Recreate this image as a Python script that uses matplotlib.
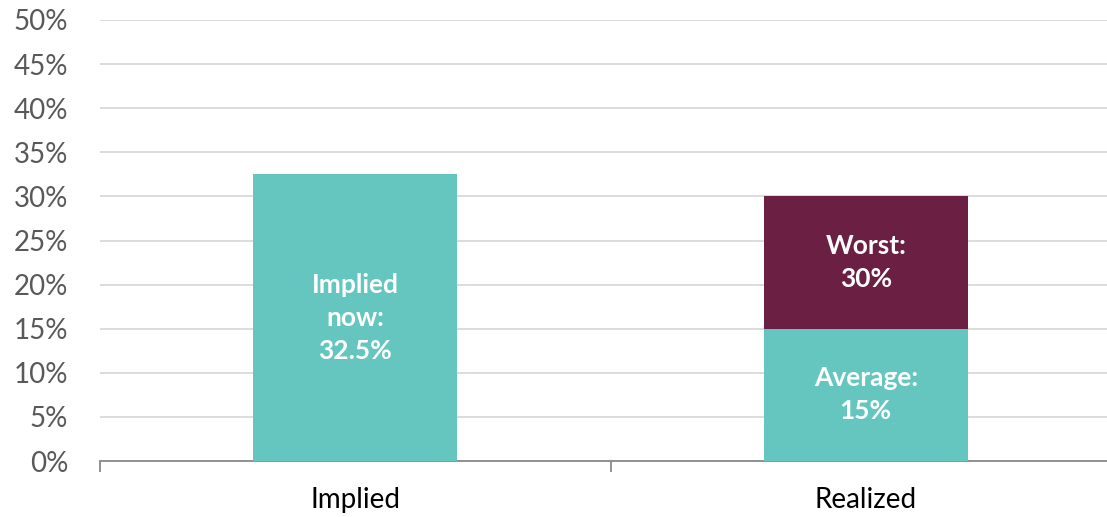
import matplotlib.pyplot as plt
from matplotlib.ticker import FuncFormatter, FixedLocator

plt.rcParams['font.family'] = ['Lato', 'DejaVu Sans']

categories = ['Implied', 'Realized']
base_values = [32.5, 15]
top_values = [0, 15]
base_labels = ['Implied\nnow:\n32.5%', 'Average:\n15%']
top_labels = ['', 'Worst:\n30%']

teal = '#64C6BF'
maroon = '#6B1F43'

fig = plt.figure(figsize=(11.07, 5.17), dpi=100)
ax = fig.add_axes([100/1107, 56/517, 1021/1107, 441/517])

x = range(len(categories))
b1 = ax.bar(x, base_values, width=0.4, color=teal, zorder=3)
b2 = ax.bar(x, top_values, width=0.4, bottom=base_values, color=maroon, zorder=3)

for rect, lab in zip(list(b1) + list(b2), base_labels + top_labels):
    if lab:
        ax.text(rect.get_x() + rect.get_width()/2, rect.get_y() + rect.get_height()/2, lab,
                ha='center', va='center', color='white', fontsize=19, fontweight='bold',
                linespacing=1.45, zorder=4)

ax.set_xlim(-0.5, 1.5)
ax.set_ylim(0, 50)
ax.set_yticks(range(0, 51, 5))
ax.yaxis.set_major_formatter(FuncFormatter(lambda v, p: f'{int(v)}%'))
ax.grid(axis='y', color='#D9D9D9', linewidth=1.3, zorder=0)
ax.tick_params(axis='y', length=0, pad=23, labelsize=20, labelcolor='#595959')

ax.set_xticks(list(x))
ax.set_xticklabels(categories)
ax.tick_params(axis='x', length=0, pad=19, labelsize=20, labelcolor='black')
ax.xaxis.set_minor_locator(FixedLocator([-0.5, 0.5, 1.5]))
ax.tick_params(axis='x', which='minor', length=8, width=1.3, color='#898989')

for s in ['top', 'right', 'left']:
    ax.spines[s].set_visible(False)
ax.spines['bottom'].set_color('#898989')
ax.spines['bottom'].set_linewidth(1.3)

fig.savefig('out.png', dpi=100)
